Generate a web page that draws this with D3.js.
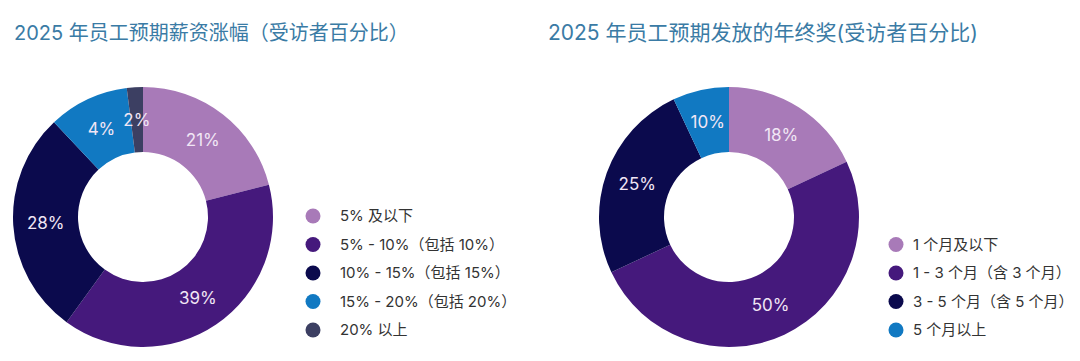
<!DOCTYPE html>
<html>
<head>
<meta charset="utf-8">
<script src="https://cdn.jsdelivr.net/npm/d3@7"></script>
<style>
  body { margin: 0; background: #fff; }
  text { font-family: Inter, "Noto Sans CJK SC", sans-serif; }
</style>
</head>
<body>
<script>
// chart data
var salaryCategories = ["5% 及以下", "5% - 10%（包括 10%）", "10% - 15%（包括 15%）", "15% - 20%（包括 20%）", "20% 以上"];
var salaryShares = [21, 39, 28, 10, 2];       // slice sizes as drawn
var salaryLabels = ["21%", "39%", "28%", "4%", "2%"];

var bonusCategories = ["1 个月及以下", "1 - 3 个月（含 3 个月）", "3 - 5 个月（含 5 个月）", "5 个月以上"];
var bonusShares = [18, 50, 25, 7];
var bonusLabels = ["18%", "50%", "25%", "10%"];

var colors = ["#a87ab8", "#45197c", "#0b0a4d", "#1179c2", "#3c3f62"];

var width = 1080, height = 361;

var svg = d3.select("body").append("svg")
    .attr("width", width)
    .attr("height", height);

var arc = d3.arc().innerRadius(65).outerRadius(130);
var pie = d3.pie().sort(null).value(function(d) { return d; });

// draw one donut + legend
function drawDonut(opts) {
    var g = svg.append("g");

    g.append("text")
        .attr("x", opts.titleX)
        .attr("y", 40)
        .style("font-size", opts.titleSize)
        .style("fill", "#3a7ba5")
        .text(opts.title);

    var donut = g.append("g")
        .attr("transform", "translate(" + opts.cx + ",217)");

    var arcs = pie(opts.shares);

    donut.selectAll("path")
        .data(arcs)
        .enter().append("path")
        .attr("d", arc)
        .attr("fill", function(d, i) { return colors[i]; });

    donut.selectAll("text")
        .data(arcs)
        .enter().append("text")
        .attr("transform", function(d) {
            var c = arc.centroid(d);
            return "translate(" + c[0] + "," + c[1] + ")";
        })
        .attr("text-anchor", "middle")
        .attr("dy", "0.35em")
        .style("font-size", "17px")
        .style("fill", "#f1e6f5")
        .text(function(d, i) { return opts.labels[i]; });

    // legend, bottom aligned
    var n = opts.categories.length;
    var y = d3.scaleLinear().domain([0, 4]).range([216, 330]);
    var legend = g.selectAll(".legend")
        .data(opts.categories)
        .enter().append("g")
        .attr("transform", function(d, i) {
            return "translate(" + opts.legendX + "," + y(i + 5 - n) + ")";
        });

    legend.append("circle")
        .attr("r", 7.5)
        .attr("fill", function(d, i) { return colors[i]; });

    legend.append("text")
        .attr("x", opts.textDx)
        .attr("dy", "0.35em")
        .style("font-size", "15px")
        .style("fill", "#333")
        .text(function(d) { return d; });
}

drawDonut({
    title: "2025 年员工预期薪资涨幅（受访者百分比）",
    titleX: 14,
    titleSize: "20px",
    cx: 143,
    shares: salaryShares,
    labels: salaryLabels,
    categories: salaryCategories,
    legendX: 313,
    textDx: 27
});

drawDonut({
    title: "2025 年员工预期发放的年终奖(受访者百分比)",
    titleX: 548,
    titleSize: "21px",
    cx: 729,
    shares: bonusShares,
    labels: bonusLabels,
    categories: bonusCategories,
    legendX: 896,
    textDx: 17
});
</script>
</body>
</html>
